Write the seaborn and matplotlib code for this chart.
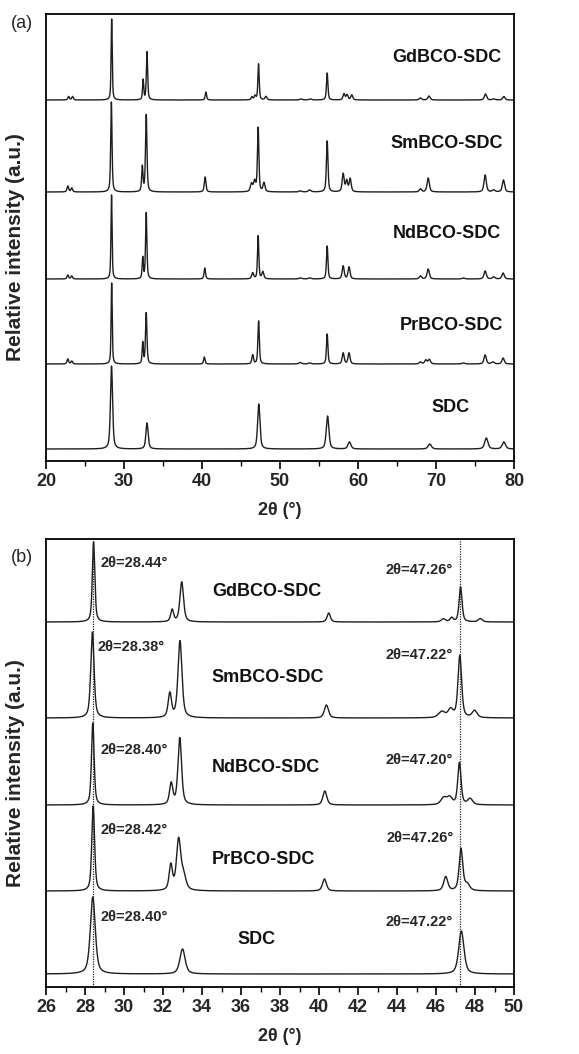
import numpy as np
import pandas as pd
import matplotlib
matplotlib.use("Agg")
import matplotlib.pyplot as plt
from matplotlib.ticker import MultipleLocator
import seaborn as sns

sns.set_theme(style="white")
plt.rcParams['font.family'] = ['Liberation Sans', 'DejaVu Sans']

# ---------------- data ----------------
samples = ['GdBCO-SDC', 'SmBCO-SDC', 'NdBCO-SDC', 'PrBCO-SDC', 'SDC']

# panel (a): vertical offsets of each pattern and peak lists (2theta, height, FWHM)
a_offsets = [361, 269, 182, 97, 12]
a_gd = [(22.9, 3.5, .25), (23.4, 3.5, .25), (28.42, 81, .17), (32.45, 20, .18), (32.95, 48, .2),
        (40.5, 8, .22), (46.4, 3, .25), (46.8, 4, .25), (47.25, 36, .2), (48.2, 3.5, .3),
        (52.7, 1, .4), (53.9, 1, .4), (56.05, 27, .22), (58.2, 6, .3), (58.6, 5, .3),
        (59.2, 5, .3), (68.0, 2, .35), (69.1, 4, .35), (76.35, 6, .35), (77.4, 1, .4),
        (78.7, 3.5, .35)]
a_sm = [(22.8, 6, .25), (23.3, 4, .25), (28.38, 90, .2), (32.35, 25, .2), (32.85, 77, .22),
        (40.4, 15, .25), (46.35, 8, .35), (46.75, 10, .3), (47.2, 64, .22), (47.95, 9, .3),
        (52.6, 1, .4), (53.8, 2, .4), (56.05, 51, .24), (58.1, 18, .3), (58.55, 11, .3),
        (59.0, 13, .3), (68.0, 3, .35), (69.0, 14, .35), (76.3, 17, .35), (77.4, 2, .4),
        (78.65, 12, .35)]
a_nd = [(22.8, 4, .25), (23.3, 3, .25), (28.4, 84, .17), (32.4, 21, .18), (32.85, 66, .2),
        (40.35, 11, .22), (46.5, 6, .3), (47.2, 43, .2), (47.8, 7, .3), (52.6, 1, .4),
        (53.8, 1, .4), (56.05, 33, .22), (58.1, 13, .3), (58.85, 12, .3), (68.0, 3, .35),
        (69.0, 10, .35), (73.5, 1, .4), (76.3, 8, .35), (77.4, 2, .4), (78.6, 6, .35)]
a_pr = [(22.8, 5, .25), (23.3, 3, .25), (28.42, 81, .17), (32.4, 21, .18), (32.85, 51, .22),
        (40.3, 7, .22), (46.5, 9, .25), (47.26, 43, .22), (52.6, 1.5, .4), (53.8, 1, .4),
        (56.05, 30, .22), (58.1, 11, .3), (58.85, 11, .3), (68.0, 2, .35), (68.7, 4, .35),
        (69.15, 4.5, .35), (73.5, 1, .4), (76.3, 9, .35), (77.3, 2, .4), (78.6, 6, .35)]
a_sdc = [(28.4, 83, .32), (32.95, 26, .34), (47.28, 45, .36), (56.1, 33, .4), (58.9, 7, .45),
         (69.2, 5, .5), (76.45, 11, .5), (78.7, 7, .5)]
a_peaks = [a_gd, a_sm, a_nd, a_pr, a_sdc]

# panel (b)
b_offsets = [365, 269, 182, 96, 13]
b_gd = [(28.44, 80, .15), (32.47, 12, .18), (32.96, 40, .22), (40.5, 9, .2), (46.38, 3, .25),
        (46.8, 4, .2), (47.26, 35, .18), (48.27, 3.3, .25)]
b_sm = [(28.38, 86, .2), (32.35, 24, .2), (32.87, 77, .24), (40.38, 13, .25), (46.3, 6, .4),
        (46.75, 8, .3), (47.22, 62, .22), (47.98, 7, .3)]
b_nd = [(28.40, 82, .16), (32.42, 21, .2), (32.86, 67, .22), (40.3, 14, .24), (46.4, 7, .35),
        (46.7, 7, .3), (47.2, 42, .2), (47.75, 6, .3)]
b_pr = [(28.42, 85, .17), (32.4, 25, .2), (32.8, 50, .26), (33.05, 14, .3), (40.28, 12, .24),
        (46.5, 14, .25), (47.28, 42, .22), (47.6, 6, .3)]
b_sdc = [(28.40, 77, .3), (33.0, 25, .32), (47.3, 43, .32)]
b_peaks = [b_gd, b_sm, b_nd, b_pr, b_sdc]

b_left_labels = ['2θ=28.44°', '2θ=28.38°', '2θ=28.40°', '2θ=28.42°', '2θ=28.40°']
b_right_labels = ['2θ=47.26°', '2θ=47.22°', '2θ=47.20°', '2θ=47.26°', '2θ=47.22°']
b_ref_lines = [28.40, 47.22]

a_xticks = [20, 30, 40, 50, 60, 70, 80]
b_xticks = list(range(26, 51, 2))

# label positions (data coords)
a_name_pos = [(64.4, 404), (64.1, 317), (64.4, 228), (65.3, 136), (69.4, 54)]
b_name_pos = [(34.5, 395), (34.5, 310), (34.5, 220), (34.5, 127), (35.8, 47)]
b_left_pos = [(28.77, 424), (28.62, 340), (28.77, 237), (28.77, 157), (28.8, 70)]
b_right_pos = [(46.87, 417), (46.87, 332), (46.87, 227), (46.9, 149), (46.87, 65)]


def profile(x, peaks, base):
    y = np.full_like(x, float(base))
    for c, h, w in peaks:
        hw = w / 2.0
        d = (x - c) / hw
        y += h * (0.55 / (1 + d ** 2) + 0.45 * np.exp(-np.log(2) * d ** 2))
    return y


W, H = 579, 1054
fig = plt.figure(figsize=(W / 100, H / 100), dpi=100)
ax_a = fig.add_axes([46 / W, 1 - 461 / H, 468 / W, 447 / H])
ax_b = fig.add_axes([46 / W, 1 - 987 / H, 468 / W, 448 / H])

line_kw = dict(color='#1e1e1e', linewidth=1.0, estimator=None, sort=False, legend=False)

xa = np.linspace(20, 80, 6001)
for peaks, off in zip(a_peaks, a_offsets):
    df = pd.DataFrame({'x': xa, 'y': profile(xa, peaks, off)})
    sns.lineplot(data=df, x='x', y='y', ax=ax_a, **line_kw)

xb = np.linspace(26, 50, 4801)
for peaks, off in zip(b_peaks, b_offsets):
    df = pd.DataFrame({'x': xb, 'y': profile(xb, peaks, off)})
    sns.lineplot(data=df, x='x', y='y', ax=ax_b, **line_kw)

for xv in b_ref_lines:
    ax_b.axvline(xv, color='#222222', linewidth=0.9, linestyle=(0, (1, 1)))

ax_a.set_xlim(20, 80)
ax_a.set_ylim(0, 447)
ax_b.set_xlim(26, 50)
ax_b.set_ylim(0, 448)

for ax, ticks, minor in [(ax_a, a_xticks, 5), (ax_b, b_xticks, 1)]:
    ax.set_xticks(ticks)
    ax.xaxis.set_minor_locator(MultipleLocator(minor))
    ax.set_yticks([])
    ax.tick_params(axis='x', which='major', direction='out', length=6, width=1.2,
                   bottom=True, top=False, labelsize=13, pad=3, color='black')
    ax.tick_params(axis='x', which='minor', direction='out', length=3.5, width=1.0,
                   bottom=True, top=False, color='black')
    for lab in ax.get_xticklabels():
        lab.set_fontweight('bold')
    for sp in ax.spines.values():
        sp.set_color('black')
        sp.set_linewidth(1.3)
    ax.set_xlabel('2θ (°)', fontsize=13, fontweight='bold', labelpad=8)
    ax.set_ylabel('Relative intensity (a.u.)', fontsize=15, fontweight='bold')
    ax.yaxis.set_label_coords(-0.045, 0.478)

for name, (x, y) in zip(samples, a_name_pos):
    ax_a.text(x, y, name, fontsize=13, fontweight='bold', ha='left', va='center', color='#111111')
for name, (x, y) in zip(samples, b_name_pos):
    ax_b.text(x, y, name, fontsize=13, fontweight='bold', ha='left', va='center', color='#111111')
for lab, (x, y) in zip(b_left_labels, b_left_pos):
    ax_b.text(x, y, lab, fontsize=10.5, fontweight='bold', ha='left', va='center')
for lab, (x, y) in zip(b_right_labels, b_right_pos):
    ax_b.text(x, y, lab, fontsize=10.5, fontweight='bold', ha='right', va='center')

fig.text(22 / W, 1 - 24 / H, '(a)', fontsize=13, ha='center', va='center')
fig.text(22 / W, 1 - 557 / H, '(b)', fontsize=13, ha='center', va='center')

fig.savefig('out.png', dpi=100, facecolor='white')
